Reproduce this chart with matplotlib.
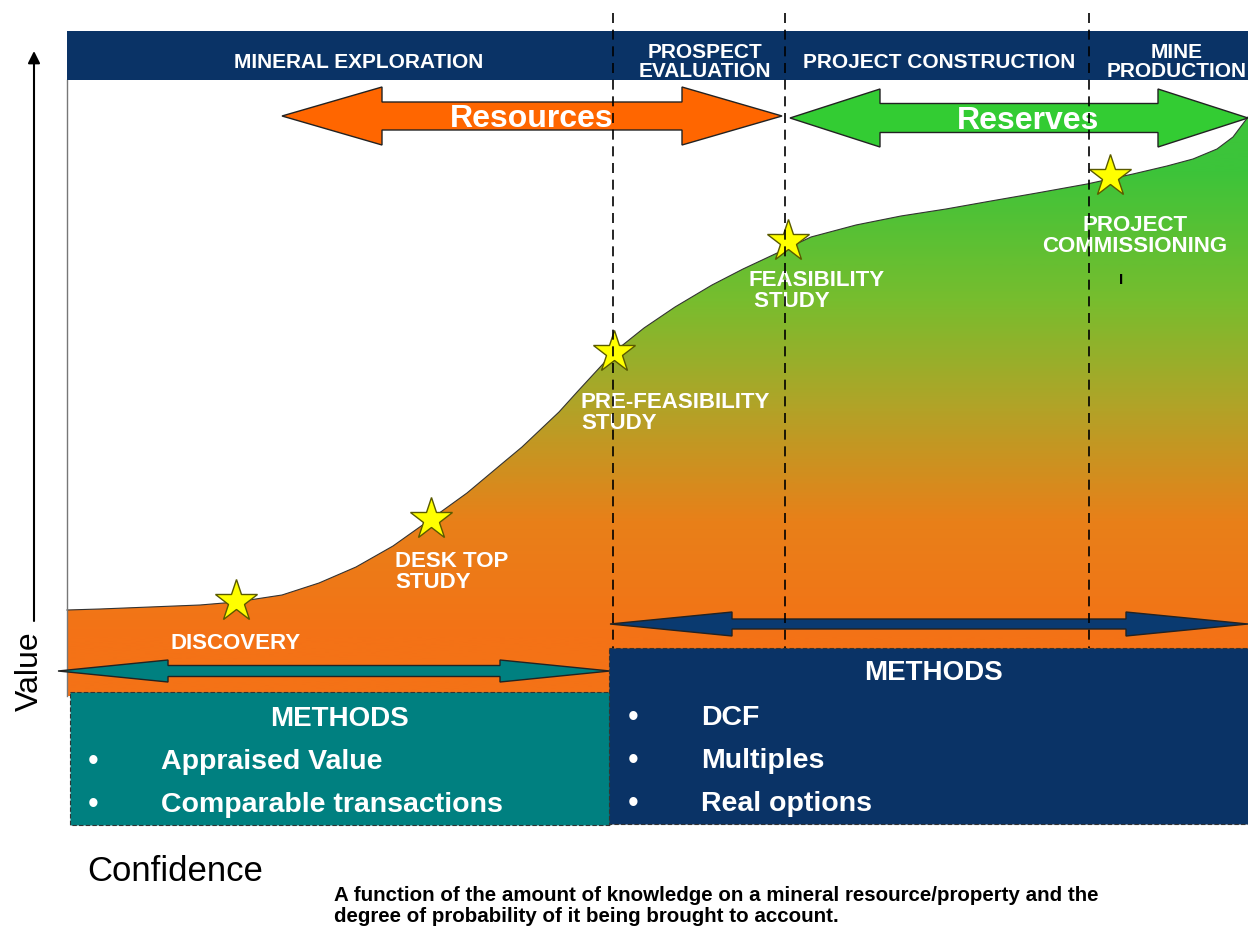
import numpy as np
import matplotlib.pyplot as plt
from matplotlib.patches import Polygon, Rectangle
from matplotlib.colors import LinearSegmentedColormap

plt.rcParams['font.family'] = ['Liberation Sans', 'DejaVu Sans']

# ---------------- data (canvas units: px, y grows downward) ----------------
stage_names = ["MINERAL EXPLORATION", "PROSPECT\nEVALUATION",
               "PROJECT CONSTRUCTION", "MINE\nPRODUCTION"]
stage_bounds = [67, 613, 785, 1089, 1248]

# value curve (confidence -> value)
conf = [67, 100, 150, 200, 236, 282, 319, 356, 393, 431, 467, 504, 522,
        559, 578, 614, 644, 675, 712, 743, 775, 811, 856, 901, 946, 991,
        1037, 1087, 1133, 1167, 1193, 1217, 1233, 1248]
value = [611, 610, 608, 606, 603, 596, 584, 568, 547, 520, 494, 463, 448,
         413, 392, 353, 329, 308, 286, 270, 255, 238, 226, 217, 210, 202,
         194, 185, 175, 167, 160, 150, 138, 118]

milestones = ["DISCOVERY", "DESK TOP\nSTUDY", "PRE-FEASIBILITY\nSTUDY",
              "FEASIBILITY\n STUDY", "PROJECT\nCOMMISSIONING"]
milestone_x = [236, 431, 614, 788, 1110]
milestone_y = [602, 520, 353, 242, 177]

early_methods = ["Appraised Value", "Comparable transactions"]
late_methods = ["DCF", "Multiples", "Real options"]

# ---------------- layout ----------------
navy = "#0a3366"
teal = "#008080"

fig = plt.figure(figsize=(12.48, 9.28), dpi=100)
ax = fig.add_axes([0, 0, 1, 1])
ax.set_xlim(0, 1248)
ax.set_ylim(928, 0)
ax.axis("off")

def double_arrow(x0, x1, yc, sh, hh, hl, color, z):
    pts = [(x0, yc), (x0 + hl, yc - hh), (x0 + hl, yc - sh), (x1 - hl, yc - sh),
           (x1 - hl, yc - hh), (x1, yc), (x1 - hl, yc + hh), (x1 - hl, yc + sh),
           (x0 + hl, yc + sh), (x0 + hl, yc + hh)]
    ax.add_patch(Polygon(pts, closed=True, fc=color, ec="#222222", lw=1, zorder=z))

# gradient fill under the value curve
bottom = 697
poly = list(zip(conf, value)) + [(1248, bottom), (67, bottom)]
area = Polygon(poly, closed=True, fc="none", ec="none")
ax.add_patch(area)
cmap = LinearSegmentedColormap.from_list(
    "og", [(0.0, "#f47216"), (0.25, "#e88019"), (0.5, "#b0a428"),
           (0.72, "#78bd2e"), (1.0, "#3cc43a")])
grad = np.clip((640 - np.linspace(bottom, 80, 600)) / (640 - 170), 0, 1).reshape(-1, 1)
im = ax.imshow(grad, cmap=cmap, vmin=0, vmax=1, aspect="auto",
               extent=[67, 1248, bottom, 80], origin="lower", zorder=1)
im.set_clip_path(area)
ax.plot(conf, value, color="#333333", lw=0.8, zorder=2)

# frame line on the left
ax.plot([67, 67], [81, bottom], color="#777777", lw=1, zorder=2)

# header bar
ax.add_patch(Rectangle((67, 32), 1248 - 67, 49, fc=navy, ec="none", zorder=3))
header_x = [359, 705, 939, 1177]
for name, hx in zip(stage_names, header_x):
    ax.text(hx, 62, name, color="white", fontsize=15, fontweight="bold",
            ha="center", va="center", linespacing=1.0, zorder=4)

# resources / reserves arrows
double_arrow(282, 782, 117, 14, 29, 100, "#ff6600", 3)
ax.text(532, 119, "Resources", color="white", fontsize=23, fontweight="bold",
        ha="center", va="center", zorder=4)
double_arrow(790, 1248, 119, 14.5, 29, 90, "#33cc33", 3)
ax.text(1028, 121, "Reserves", color="white", fontsize=23, fontweight="bold",
        ha="center", va="center", zorder=4)

# milestones
ax.plot(milestone_x, milestone_y, ls="none", marker="*", ms=32,
        mfc="#ffff00", mec="#5a5a00", mew=1, zorder=5)
label_pos = [(170, 644, "left"), (395, 572, "left"), (581, 413, "left"),
             (748, 291, "left"), (1135, 236, "center")]
for txt, (lx, ly, ha) in zip(milestones, label_pos):
    ax.text(lx, ly, txt, color="white", fontsize=16, fontweight="bold",
            ha=ha, va="center", linespacing=0.97, zorder=5)
ax.text(1121, 280, "I", color="black", fontsize=11, fontweight="bold",
        ha="center", va="center", zorder=5)

# method arrows and boxes
double_arrow(58, 610, 672, 5.5, 11, 110, teal, 6)
double_arrow(610, 1248, 625, 5, 12, 122, "#0a3a70", 6)

ax.add_patch(Rectangle((70, 693), 540, 133, fc=teal, ec="#333333", lw=0.8,
                       ls=(0, (4, 2)), zorder=6))
ax.add_patch(Rectangle((609, 649), 660, 176, fc=navy, ec="#333333", lw=0.8,
                       ls=(0, (4, 2)), zorder=8))

ax.text(340, 719, "METHODS", color="white", fontsize=20, fontweight="bold",
        ha="center", va="center", zorder=9)
for i, m in enumerate(early_methods):
    y = 762 + 43 * i
    ax.text(93, y, "\u2022", color="white", fontsize=22, ha="center", va="center", zorder=9)
    ax.text(161, y, m, color="white", fontsize=20.5, fontweight="bold",
            ha="left", va="center", zorder=9)

ax.text(933, 673, "METHODS", color="white", fontsize=20, fontweight="bold",
        ha="center", va="center", zorder=9)
for i, m in enumerate(late_methods):
    y = 718 + 43 * i
    ax.text(633, y, "\u2022", color="white", fontsize=22, ha="center", va="center", zorder=9)
    ax.text(701, y, m, color="white", fontsize=20.5, fontweight="bold",
            ha="left", va="center", zorder=9)

# stage dividers
for bx in stage_bounds[1:-1]:
    ax.plot([bx, bx], [14, 649], color="black", lw=1.2, ls=(0, (6, 4)), zorder=7)

# axes arrows and labels
ax.annotate("", xy=(34, 52), xytext=(34, 622),
            arrowprops=dict(arrowstyle="-|>", color="black", lw=1.5,
                            mutation_scale=18, shrinkA=0, shrinkB=0))
ax.text(30, 671, "Value", rotation=90, fontsize=23, ha="center", va="center")
ax.annotate("", xy=(1252, 873), xytext=(315, 873),
            arrowprops=dict(arrowstyle="-|>", color="black", lw=1.8,
                            mutation_scale=18, shrinkA=0, shrinkB=0))
ax.text(175, 872, "Confidence", fontsize=25, ha="center", va="center")
ax.text(334, 896, "A function of the amount of knowledge on a mineral resource/property and the",
        fontsize=14.8, fontweight="bold", ha="left", va="center")
ax.text(334, 917, "degree of probability of it being brought to account.",
        fontsize=14.8, fontweight="bold", ha="left", va="center")

fig.savefig("out.png", dpi=100)
